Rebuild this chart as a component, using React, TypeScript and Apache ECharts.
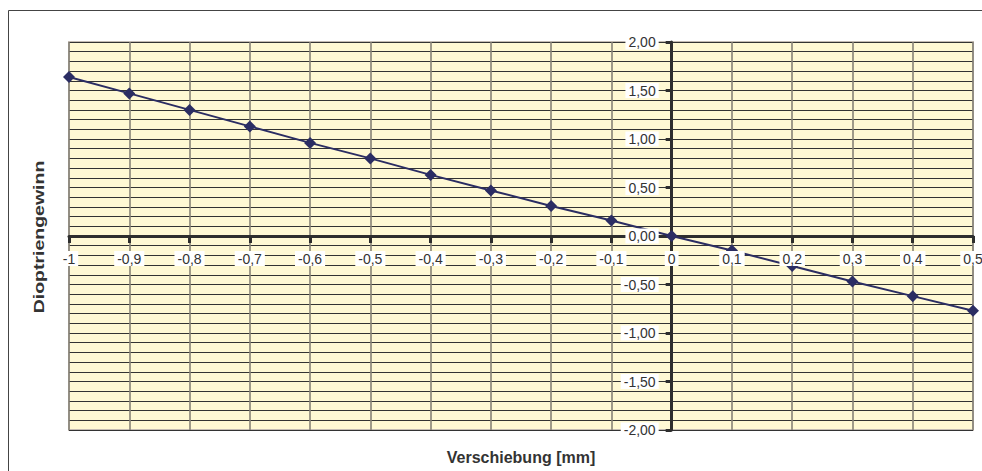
import React, { useEffect, useRef } from "react";
import * as echarts from "echarts";

// Verschiebung in mm (x) and Dioptriengewinn (y)
const shifts = [-1, -0.9, -0.8, -0.7, -0.6, -0.5, -0.4, -0.3, -0.2, -0.1, 0, 0.1, 0.2, 0.3, 0.4, 0.5];
const gains = [1.64, 1.47, 1.3, 1.13, 0.96, 0.8, 0.63, 0.47, 0.31, 0.16, 0, -0.15, -0.31, -0.47, -0.62, -0.77];

const xTitle = "Verschiebung [mm]";
const yTitle = "Dioptriengewinn";

const X_MIN = -1;
const X_MAX = 0.5;
const Y_MIN = -2;
const Y_MAX = 2;

const fmtX = (v: number) => String(Math.round(v * 10) / 10).replace(".", ",");
const fmtY = (v: number) => (Math.round(v * 100) / 100).toFixed(2).replace(".", ",");

const FONT = "'Liberation Sans', Arial, sans-serif";
const AXIS_DARK = "#2e2e2e";

const W = 982;
const H = 471;
const GRID = { left: 69, right: 9, top: 42, bottom: 41 };

export default function App() {
  const ref = useRef<HTMLDivElement>(null);

  useEffect(() => {
    if (!ref.current) return;
    const chart = echarts.init(ref.current, undefined, { renderer: "svg" });

    const plotW = W - GRID.left - GRID.right;
    const plotH = H - GRID.top - GRID.bottom;
    // shift the label axes from the grid edge onto the zero lines
    const xLabelOffset = -((0 - Y_MIN) / (Y_MAX - Y_MIN)) * plotH;
    const yLabelOffset = -((0 - X_MIN) / (X_MAX - X_MIN)) * plotW;

    const labelStyle = {
      fontFamily: FONT,
      fontSize: 14,
      color: "#333",
      backgroundColor: "#fff",
      padding: [1, 3, 0, 3],
    };

    const xBase = {
      type: "value" as const,
      min: X_MIN,
      max: X_MAX,
      interval: 0.1,
      position: "bottom" as const,
    };
    const yBase = {
      type: "value" as const,
      min: Y_MIN,
      max: Y_MAX,
      interval: 0.5,
      position: "left" as const,
    };

    // the drawn axes (lines, ticks, grid) sit under the series,
    // a twin axis pair on top carries the white-boxed labels
    chart.setOption({
      animation: false,
      backgroundColor: "#fff",
      grid: {
        ...GRID,
        show: true,
        backgroundColor: "#fff9d4",
        borderColor: "#c4bcb4",
        borderWidth: 2,
        containLabel: false,
        outerBoundsMode: "none",
      },
      xAxis: [
        {
          ...xBase,
          z: 1,
          axisLine: { show: true, onZero: true, lineStyle: { color: AXIS_DARK, width: 3 } },
          axisTick: { show: true, length: 7, lineStyle: { color: AXIS_DARK, width: 3 } },
          axisLabel: { show: false },
          splitLine: { show: true, lineStyle: { color: "#878377", width: 1.6 } },
        },
        {
          ...xBase,
          z: 20,
          offset: xLabelOffset,
          axisLine: { show: false, onZero: false },
          axisTick: { show: false },
          splitLine: { show: false },
          axisLabel: {
            show: true,
            margin: 15,
            showMinLabel: true,
            showMaxLabel: true,
            hideOverlap: false,
            formatter: fmtX,
            ...labelStyle,
          },
        },
      ],
      yAxis: [
        {
          ...yBase,
          z: 1,
          axisLine: { show: true, onZero: true, lineStyle: { color: AXIS_DARK, width: 3 } },
          axisTick: { show: true, length: 6, lineStyle: { color: AXIS_DARK, width: 3 } },
          axisLabel: { show: false },
          splitLine: { show: true, lineStyle: { color: "#333", width: 1 } },
          minorTick: { show: false, splitNumber: 5 },
          minorSplitLine: { show: true, lineStyle: { color: "#333", width: 1 } },
        },
        {
          ...yBase,
          z: 20,
          offset: yLabelOffset,
          axisLine: { show: false, onZero: false },
          axisTick: { show: false },
          splitLine: { show: false },
          axisLabel: {
            show: true,
            margin: 13,
            showMinLabel: true,
            showMaxLabel: true,
            hideOverlap: false,
            formatter: fmtY,
            ...labelStyle,
          },
        },
      ],
      series: [
        {
          type: "line",
          xAxisIndex: 0,
          yAxisIndex: 0,
          z: 5,
          data: shifts.map((s, i) => [s, gains[i]]),
          symbol: "diamond",
          symbolSize: 12,
          showSymbol: true,
          lineStyle: { color: "#2b2d63", width: 2 },
          itemStyle: { color: "#2b2d63" },
        },
      ],
      graphic: [
        {
          type: "rect",
          silent: true,
          z: 100,
          shape: { x: 8.5, y: 10.5, width: 1000, height: 500 },
          style: { fill: "none", stroke: "#444", lineWidth: 1 },
        },
        {
          // widely spaced vertical title
          type: "text",
          z: 100,
          x: 39,
          y: 237,
          rotation: Math.PI / 2,
          scaleX: 1.3,
          style: {
            text: yTitle,
            font: `bold 15px ${FONT}`,
            fill: "#333",
            align: "center",
            verticalAlign: "middle",
          },
        },
        {
          type: "text",
          z: 100,
          x: 521,
          y: 457,
          style: {
            text: xTitle,
            font: `bold 16px ${FONT}`,
            fill: "#333",
            align: "center",
            verticalAlign: "middle",
          },
        },
      ],
    });

    return () => chart.dispose();
  }, []);

  return (
    <div
      ref={ref}
      style={{ position: "fixed", left: 0, top: 0, width: W, height: H }}
    />
  );
}
